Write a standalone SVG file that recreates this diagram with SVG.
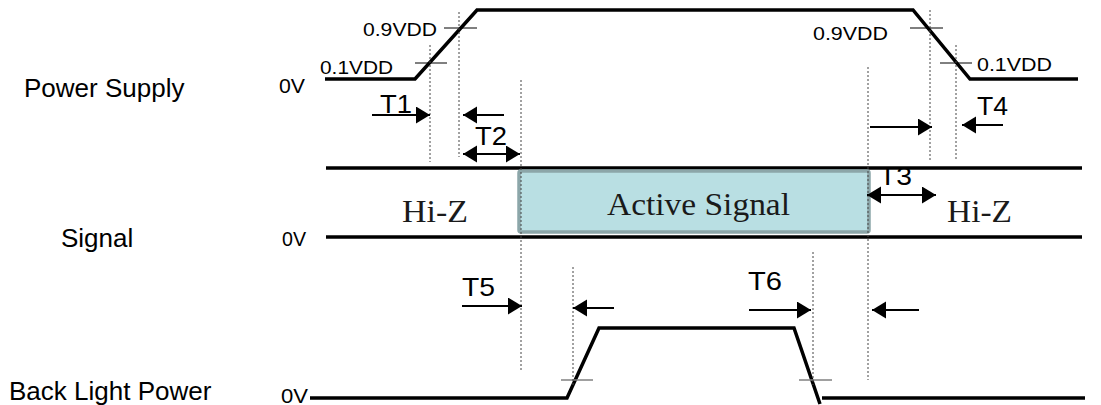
<svg xmlns="http://www.w3.org/2000/svg" width="1101" height="405" viewBox="0 0 1101 405">
<style>
.wave{fill:none;stroke:#000;stroke-width:3.5;stroke-linejoin:miter}
.tick{stroke:#000;stroke-width:1}
.gtick{stroke:#808080;stroke-width:1.5}
.guide{stroke:#444;stroke-width:1;stroke-dasharray:2 2}
.arr{stroke:#000;stroke-width:2;fill:none;marker-end:url(#ah)}
.darr{stroke:#000;stroke-width:2;fill:none;marker-end:url(#ah);marker-start:url(#ah)}
.lbl{font-family:"Liberation Sans",Arial,sans-serif;font-size:26px;fill:#000}
.v0{font-family:"Liberation Sans",Arial,sans-serif;font-size:21px;fill:#000}
.vdd{font-family:"Liberation Sans",Arial,sans-serif;font-size:19px;fill:#000}
.t{font-family:"Liberation Sans",Arial,sans-serif;font-size:25px;fill:#000}
.ser{font-family:"Liberation Serif","Times New Roman",serif;font-size:31px;fill:#1a1a1a}
</style>
<defs>
<marker id="ah" markerUnits="userSpaceOnUse" markerWidth="16" markerHeight="18" refX="14" refY="8.5" orient="auto-start-reverse" viewBox="0 0 16 18">
<path d="M0,0 L14,8.5 L0,17 z" fill="#000"/>
</marker>
</defs>
<rect width="1101" height="405" fill="#fff"/>

<g id="labels">
<text class="lbl" x="24" y="97">Power Supply</text>
<text class="lbl" x="61" y="247">Signal</text>
<text class="lbl" x="9" y="400">Back Light Power</text>
</g>

<g id="power-supply">
<text class="v0" x="279" y="93" textLength="26" lengthAdjust="spacingAndGlyphs">0V</text>
<polyline class="wave" points="325,79 415,79 477,10 913,10 970,79 1078,79"/>
<line class="tick" x1="415" y1="63" x2="447" y2="63"/>
<line class="tick" x1="444" y1="28" x2="477" y2="28"/>
<line class="tick" x1="910" y1="28" x2="943" y2="28"/>
<line class="tick" x1="940" y1="63" x2="972" y2="63"/>
<text class="vdd" x="320" y="74" textLength="73" lengthAdjust="spacingAndGlyphs">0.1VDD</text>
<text class="vdd" x="363" y="36" textLength="74" lengthAdjust="spacingAndGlyphs">0.9VDD</text>
<text class="vdd" x="813" y="40" textLength="75" lengthAdjust="spacingAndGlyphs">0.9VDD</text>
<text class="vdd" x="977" y="71" textLength="75" lengthAdjust="spacingAndGlyphs">0.1VDD</text>
</g>

<g id="signal">
<text class="v0" x="282" y="246" textLength="24" lengthAdjust="spacingAndGlyphs">0V</text>
<line class="wave" x1="326" y1="168" x2="1082" y2="168"/>
<line class="wave" x1="326" y1="237" x2="1082" y2="237"/>
<rect x="519" y="171" width="350" height="61" rx="2" fill="#B9DFE3" stroke="#8CA6A9" stroke-width="3.5"/>
<text class="ser" x="607" y="215" textLength="183" lengthAdjust="spacingAndGlyphs">Active Signal</text>
<text class="ser" x="402" y="222" textLength="66" lengthAdjust="spacingAndGlyphs">Hi-Z</text>
<text class="ser" x="947" y="222" textLength="65" lengthAdjust="spacingAndGlyphs">Hi-Z</text>
</g>

<g id="back-light-power">
<text class="v0" x="281" y="403" textLength="27" lengthAdjust="spacingAndGlyphs">0V</text>
<polyline class="wave" points="310,398 567,398 599,328 794,328 820,404"/>
<line class="wave" x1="822" y1="398" x2="1085" y2="398"/>
<line class="gtick" x1="561" y1="380" x2="593" y2="380"/>
<line class="gtick" x1="799" y1="380" x2="832" y2="380"/>
</g>

<g id="connectors">
<line class="guide" x1="430" y1="45" x2="430" y2="162"/>
<line class="guide" x1="459" y1="12" x2="459" y2="157"/>
<line class="guide" x1="521" y1="80" x2="521" y2="372"/>
<line class="guide" x1="868" y1="67" x2="868" y2="380"/>
<line class="guide" x1="930" y1="10" x2="930" y2="160"/>
<line class="guide" x1="956" y1="45" x2="956" y2="160"/>
<line class="guide" x1="573" y1="267" x2="573" y2="385"/>
<line class="guide" x1="813" y1="252" x2="813" y2="385"/>
<line class="arr" x1="372" y1="115" x2="430" y2="115"/>
<line class="arr" x1="504" y1="115" x2="463" y2="115"/>
<line class="darr" x1="463" y1="154" x2="520" y2="154"/>
<line class="arr" x1="870" y1="127" x2="932" y2="127"/>
<line class="arr" x1="1003" y1="125" x2="962" y2="125"/>
<line class="darr" x1="867" y1="195" x2="936" y2="195"/>
<line class="arr" x1="462" y1="306" x2="522" y2="306"/>
<line class="arr" x1="614" y1="308" x2="573" y2="308"/>
<line class="arr" x1="749" y1="310" x2="811" y2="310"/>
<line class="arr" x1="919" y1="310" x2="872" y2="310"/>
<text class="t" x="380" y="113" textLength="32" lengthAdjust="spacingAndGlyphs">T1</text>
<text class="t" x="475" y="145" textLength="32" lengthAdjust="spacingAndGlyphs">T2</text>
<text class="t" x="879" y="185" textLength="33" lengthAdjust="spacingAndGlyphs">T3</text>
<text class="t" x="977" y="115" textLength="31" lengthAdjust="spacingAndGlyphs">T4</text>
<text class="t" x="462" y="296" textLength="33" lengthAdjust="spacingAndGlyphs">T5</text>
<text class="t" x="748" y="290" textLength="34" lengthAdjust="spacingAndGlyphs">T6</text>
</g>
</svg>
